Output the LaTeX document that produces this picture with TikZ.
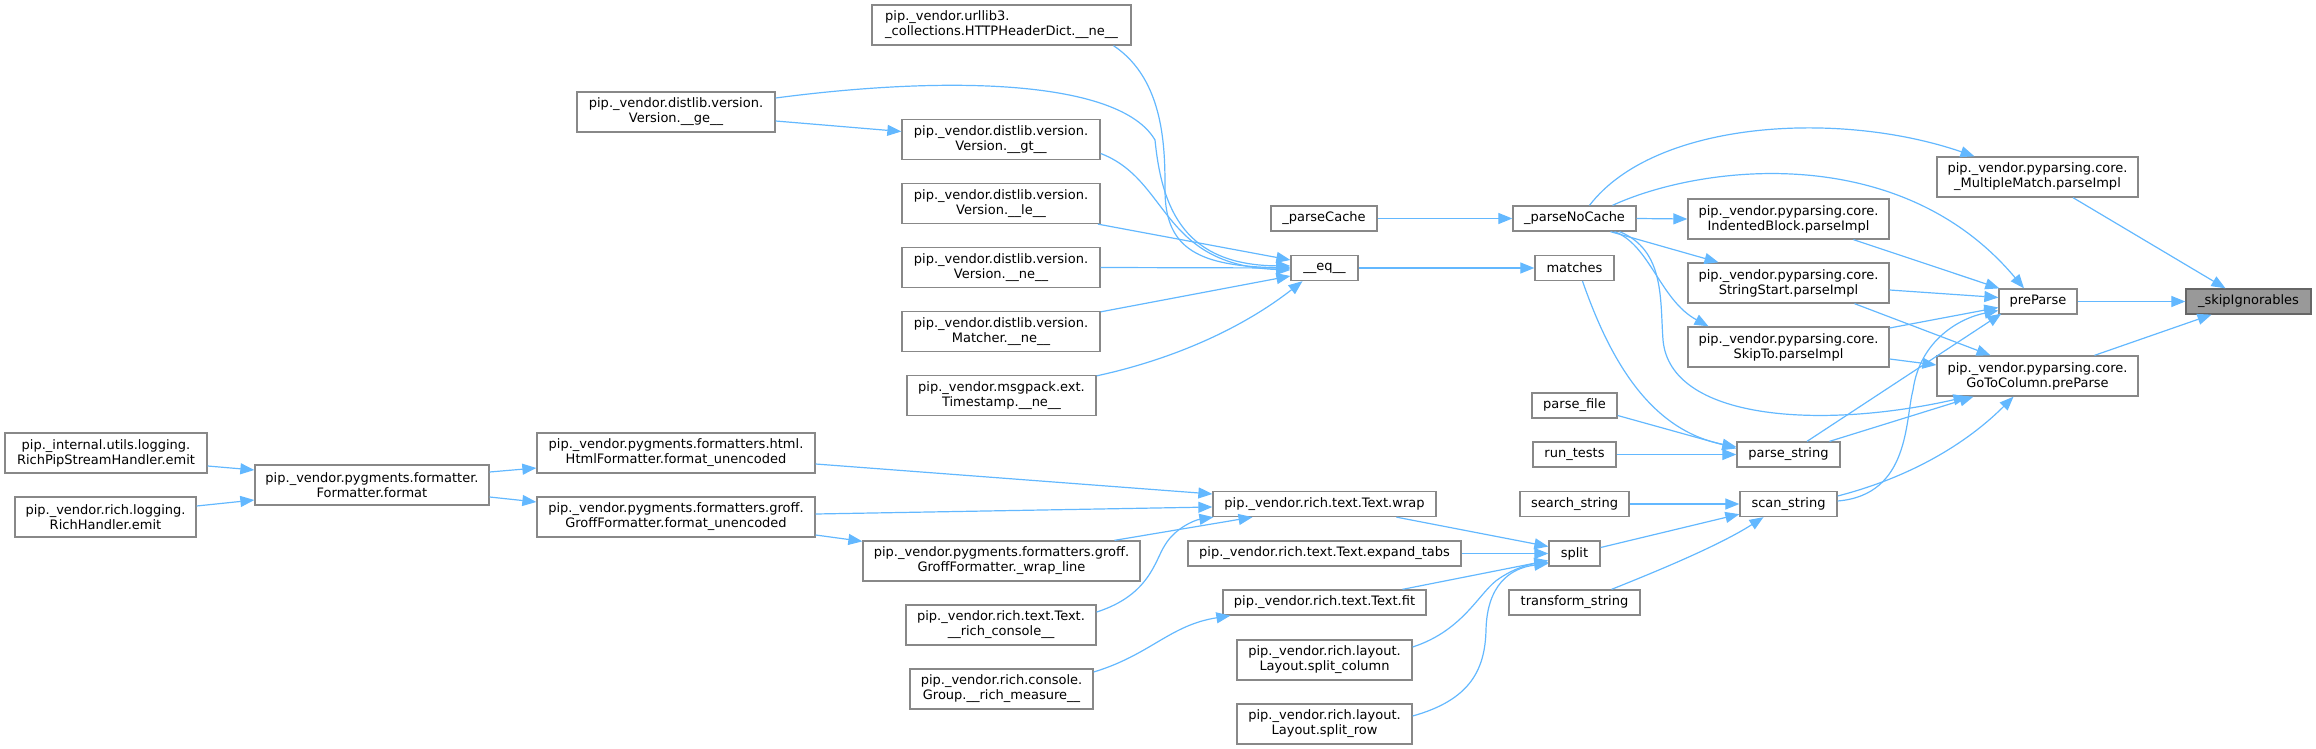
\documentclass[tikz,border=0pt]{standalone}
\usepackage{fontspec}
\setmainfont{DejaVu Sans}
\usetikzlibrary{arrows.meta}
\definecolor{edgeblue}{HTML}{63B8FF}
\definecolor{boxgray}{HTML}{888888}
\definecolor{curfill}{HTML}{999999}
\definecolor{curline}{HTML}{666666}
\tikzset{
  box/.style={draw=boxgray, fill=white, line width=1.3pt, inner sep=0pt,
    minimum height=25pt, font=\fontsize{13}{15}\selectfont, align=center, text=black},
  boxtwo/.style={box, minimum height=40pt},
  cur/.style={box, fill=curfill, draw=curline},
  edge/.style={draw=edgeblue, line width=1.2pt, -{Triangle[length=14pt,width=11pt]}},
}
\begin{document}
\begin{tikzpicture}[x=1pt,y=-1pt]
\useasboundingbox (0,0) rectangle (2316,749);
% right part
\node[cur, minimum width=125pt] (skip) at (2248.5,301.5) {\_skipIgnorables};
\node[boxtwo, minimum width=201pt] (mm) at (2037.5,177) {pip.\_vendor.pyparsing.core.\\\_MultipleMatch.parseImpl};
\node[box, minimum width=78pt] (pp) at (2038,301.5) {preParse};
\node[boxtwo, minimum width=201pt] (gtc) at (2037.5,376) {pip.\_vendor.pyparsing.core.\\GoToColumn.preParse};
\node[boxtwo, minimum width=201pt] (ib) at (1788.5,219) {pip.\_vendor.pyparsing.core.\\IndentedBlock.parseImpl};
\node[boxtwo, minimum width=201pt] (ss) at (1788.5,283) {pip.\_vendor.pyparsing.core.\\StringStart.parseImpl};
\node[boxtwo, minimum width=201pt] (st) at (1788.5,347) {pip.\_vendor.pyparsing.core.\\SkipTo.parseImpl};
\node[box, minimum width=103pt] (ps) at (1788.5,454.5) {parse\_string};
\node[box, minimum width=97pt] (sc) at (1788.5,504) {scan\_string};
\node[box, minimum width=123pt] (pnc) at (1574.5,218.5) {\_parseNoCache};
\node[box, minimum width=79pt] (matches) at (1574.5,268) {matches};
\node[box, minimum width=85pt] (pf) at (1574.5,405.5) {parse\_file};
\node[box, minimum width=83pt] (rt) at (1574.5,454.5) {run\_tests};
\node[box, minimum width=109pt] (srch) at (1574.5,504) {search\_string};
\node[box, minimum width=51pt] (split) at (1574.5,553.5) {split};
\node[box, minimum width=131pt] (ts) at (1574.5,602.5) {transform\_string};
% middle
\node[box, minimum width=106pt] (pcache) at (1324,218.5) {\_parseCache};
\node[box, minimum width=67pt] (eq) at (1324.5,268) {\_\_eq\_\_};
\node[box, minimum width=223pt] (tw) at (1324.5,504) {pip.\_vendor.rich.text.Text.wrap};
\node[box, minimum width=273pt] (et) at (1324.5,553.5) {pip.\_vendor.rich.text.Text.expand\_tabs};
\node[box, minimum width=203pt] (tf) at (1324.5,602.5) {pip.\_vendor.rich.text.Text.fit};
\node[boxtwo, minimum width=175pt] (scol) at (1324.5,660) {pip.\_vendor.rich.layout.\\Layout.split\_column};
\node[boxtwo, minimum width=175pt] (srow) at (1324.5,724) {pip.\_vendor.rich.layout.\\Layout.split\_row};
\node[boxtwo, minimum width=259pt, align=left] (hh) at (1001.5,25) {pip.\_vendor.urllib3.\\\_collections.HTTPHeaderDict.\_\_ne\_\_};
\node[boxtwo, minimum width=198pt] (gt) at (1001,139.5) {pip.\_vendor.distlib.version.\\Version.\_\_gt\_\_};
\node[boxtwo, minimum width=198pt] (le) at (1001,203.5) {pip.\_vendor.distlib.version.\\Version.\_\_le\_\_};
\node[boxtwo, minimum width=198pt] (vne) at (1001,267.5) {pip.\_vendor.distlib.version.\\Version.\_\_ne\_\_};
\node[boxtwo, minimum width=198pt] (mne) at (1001,331.5) {pip.\_vendor.distlib.version.\\Matcher.\_\_ne\_\_};
\node[boxtwo, minimum width=189pt] (tne) at (1001.5,395.5) {pip.\_vendor.msgpack.ext.\\Timestamp.\_\_ne\_\_};
\node[boxtwo, minimum width=277pt] (wl) at (1001.5,561) {pip.\_vendor.pygments.formatters.groff.\\GroffFormatter.\_wrap\_line};
\node[boxtwo, minimum width=190pt] (rc) at (1001,625) {pip.\_vendor.rich.text.Text.\\\_\_rich\_console\_\_};
\node[boxtwo, minimum width=183pt] (rm) at (1001.5,689) {pip.\_vendor.rich.console.\\Group.\_\_rich\_measure\_\_};
% left
\node[boxtwo, minimum width=198pt] (ge) at (676,112) {pip.\_vendor.distlib.version.\\Version.\_\_ge\_\_};
\node[boxtwo, minimum width=278pt] (html) at (676,453) {pip.\_vendor.pygments.formatters.html.\\HtmlFormatter.format\_unencoded};
\node[boxtwo, minimum width=278pt] (groff) at (676,517) {pip.\_vendor.pygments.formatters.groff.\\GroffFormatter.format\_unencoded};
\node[boxtwo, minimum width=234pt] (ff) at (372,485) {pip.\_vendor.pygments.formatter.\\Formatter.format};
\node[boxtwo, minimum width=202pt] (rps) at (106,453) {pip.\_internal.utils.logging.\\RichPipStreamHandler.emit};
\node[boxtwo, minimum width=181pt] (rh) at (105.5,517) {pip.\_vendor.rich.logging.\\RichHandler.emit};

% edges into _skipIgnorables
\draw[edge] ([xshift=35.5pt]mm.south) -- ([xshift=-23pt]skip.north);
\draw[edge] (pp.east) -- (skip.west);
\draw[edge] ([xshift=57pt]gtc.north) -- ([xshift=-37pt]skip.south);
% from _parseNoCache
\draw[edge] ([xshift=15pt]pnc.north) .. controls (1655,120) and (1840,110) .. ([xshift=-63pt]mm.north);
\draw[edge] ([xshift=38pt]pnc.north) .. controls (1700,165) and (1900,140) .. ([xshift=-14pt]pp.north);
\draw[edge] (pnc.east) -- (ib.west);
\draw[edge] ([xshift=36pt]pnc.south) -- ([xshift=-70pt]ss.north);
\draw[edge] ([xshift=40pt]pnc.south) .. controls (1650,245) and (1660,300) .. ([xshift=-80pt]st.north);
\draw[edge] ([xshift=45pt]pnc.south) .. controls (1665,250) and (1660,300) .. (1663,340) .. controls (1670,420) and (1820,430) .. ([xshift=-70pt]gtc.south);
% into preParse
\draw[edge] ([xshift=65pt]ib.south) -- ([xshift=1pt]pp.north west);
\draw[edge] ([yshift=-7pt]ss.east) -- ([yshift=4pt]pp.west);
\draw[edge] ([yshift=19pt]st.east) -- ([yshift=-6pt]pp.west);
\draw[edge] ([xshift=18.5pt]ps.north) -- ([xshift=3pt,yshift=1pt]pp.south west);
\draw[edge] ([yshift=3pt]sc.east) .. controls (1910,495) and (1905,420) .. (1913,390) .. controls (1920,340) and (1960,318) .. ([yshift=-9pt]pp.west);
% into GoToColumn
\draw[edge] ([xshift=66pt]ss.south) -- ([xshift=-47pt]gtc.north);
\draw[edge] ([yshift=-12pt]st.east) -- ([yshift=11pt]gtc.west);
\draw[edge] ([xshift=41pt]ps.north) -- ([xshift=-64pt]gtc.south);
\draw[edge] ([yshift=8pt]sc.east) .. controls (1900,480) and (1960,450) .. ([xshift=-24pt]gtc.south);
% into _parseNoCache, matches, parse_string, scan_string
\draw[edge] (pcache.east) -- (pnc.west);
\draw[edge] (eq.east) -- (matches.west);
\draw[edge] ([xshift=8pt]matches.south) .. controls (1610,360) and (1650,430) .. ([yshift=7.5pt]ps.west);
\draw[edge] ([yshift=-10pt]pf.east) -- ([yshift=6pt]ps.west);
\draw[edge] (rt.east) -- (ps.west);
\draw[edge] (srch.east) -- (sc.west);
\draw[edge] ([yshift=6pt]split.east) -- ([yshift=3pt]sc.south west);
\draw[edge] ([xshift=37pt]ts.north) .. controls (1660,570) and (1720,545) .. ([xshift=-25pt]sc.south);
% into split
\draw[edge] ([xshift=72pt]tw.south) -- ([yshift=7pt]split.west);
\draw[edge] (et.east) -- (split.west);
\draw[edge] ([xshift=78pt]tf.north) -- ([yshift=-7pt]split.west);
\draw[edge] ([yshift=13pt]scol.east) .. controls (1465,630) and (1480,590) .. (1500,578) .. controls (1515,568) and (1530,564) .. ([yshift=-9pt]split.west);
\draw[edge] ([yshift=8pt]srow.east) .. controls (1470,700) and (1485,670) .. (1486,630) .. controls (1487,585) and (1510,568) .. ([yshift=-10pt]split.west);
% into Text.wrap and Text.fit
\draw[edge] ([yshift=-11pt]html.east) -- ([yshift=10pt]tw.west);
\draw[edge] ([yshift=3pt]groff.east) -- ([yshift=-3pt]tw.west);
\draw[edge] ([yshift=-18pt]groff.east) -- ([yshift=-1pt]wl.north west);
\draw[edge] ([xshift=113pt]wl.north) -- ([xshift=-72pt]tw.south);
\draw[edge] ([yshift=13pt]rc.east) .. controls (1150,595) and (1155,560) .. (1165,545) .. controls (1175,528) and (1195,520) .. ([xshift=1pt]tw.south west);
\draw[edge] ([yshift=17pt]rm.east) .. controls (1150,655) and (1170,625) .. ([xshift=8pt]tf.south west);
% formatter
\draw[edge] ([yshift=13pt]ff.east) -- ([yshift=-15pt]html.west);
\draw[edge] ([yshift=-12pt]ff.east) -- ([yshift=15pt]groff.west);
\draw[edge] ([yshift=-13pt]rps.east) -- ([yshift=15pt]ff.west);
\draw[edge] ([yshift=11pt]rh.east) -- ([yshift=-15pt]ff.west);
% into __eq__
\draw[edge] ([yshift=-9pt]ge.east) -- ([yshift=8pt]gt.west);
\draw[edge] ([yshift=14pt]ge.east) .. controls (950,75) and (1120,80) .. (1155,140) .. controls (1162,210) and (1185,265) .. ([yshift=2pt]eq.west);
\draw[edge] ([xshift=112pt]hh.south) .. controls (1165,80) and (1165,150) .. (1165,190) .. controls (1165,250) and (1200,266) .. (eq.west);
\draw[edge] ([yshift=-14pt]gt.east) .. controls (1170,180) and (1160,265) .. ([yshift=-2pt]eq.west);
\draw[edge] ([xshift=97pt]le.south) -- ([yshift=8pt]eq.west);
\draw[edge] (vne.east) -- (eq.west);
\draw[edge] ([yshift=-1pt]mne.north east) -- ([yshift=-8pt]eq.west);
\draw[edge] ([yshift=-1pt]tne.north east) .. controls (1170,360) and (1240,330) .. ([xshift=-22pt]eq.south);
\end{tikzpicture}
\end{document}
